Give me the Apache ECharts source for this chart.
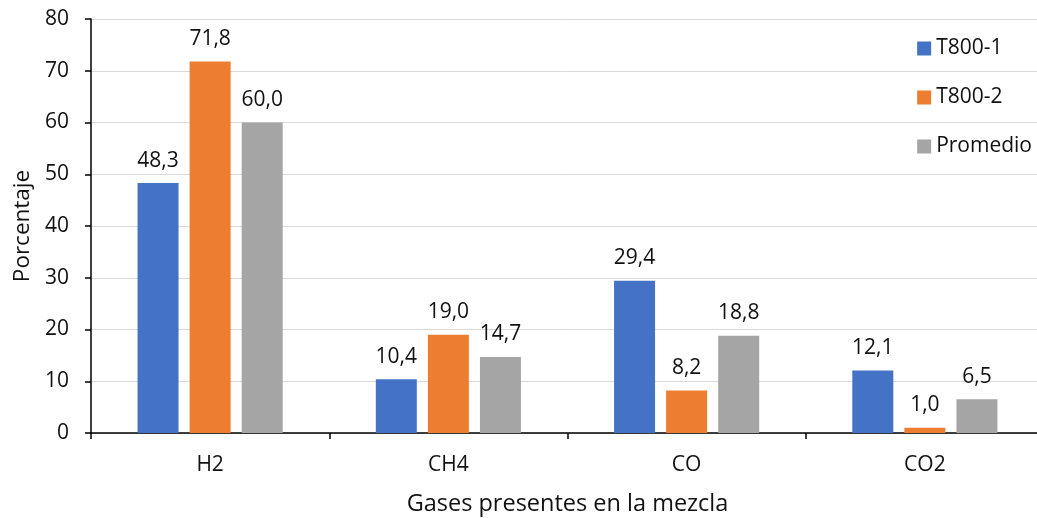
<!DOCTYPE html>
<html>
<head>
<meta charset="utf-8">
<script src="https://cdn.jsdelivr.net/npm/echarts@6/dist/echarts.min.js"></script>
<style>
  html, body { margin: 0; padding: 0; background: #fff; }
  #chart { width: 1037px; height: 518px; }
</style>
</head>
<body>
<div id="chart"></div>
<script>
// Gas composition per sample (percent)
const categories = ['H2', 'CH4', 'CO', 'CO2'];
const t800_1 = [48.3, 10.4, 29.4, 12.1];
const t800_2 = [71.8, 19.0, 8.2, 1.0];
const promedio = [60.0, 14.7, 18.8, 6.5];
const seriesNames = ['T800-1', 'T800-2', 'Promedio'];
const seriesColors = ['#4472C4', '#ED7D31', '#A5A5A5'];
const yTicks = { min: 0, max: 80, interval: 10 };

const FONT = '"Open Sans", "Noto Sans", sans-serif';
const TEXT = '#111111';

const chart = echarts.init(document.getElementById('chart'), null, { renderer: 'canvas' });

function barSeries(name, data, color) {
  return {
    name: name,
    type: 'bar',
    data: data,
    barWidth: 41,
    barGap: '27%',
    itemStyle: { color: color },
    label: {
      show: true,
      position: 'top',
      distance: 12,
      fontFamily: FONT,
      fontSize: 21,
      color: TEXT,
      formatter: p => p.value.toFixed(1).replace('.', ',')
    }
  };
}

chart.setOption({
  animation: false,
  backgroundColor: '#ffffff',
  textStyle: { fontFamily: FONT },
  grid: { left: 91, right: -7, top: 19, bottom: 85, containLabel: false, outerBoundsMode: 'none' },
  legend: {
    orient: 'vertical',
    right: 0,
    top: 33,
    itemWidth: 14,
    itemHeight: 14,
    itemGap: 28,
    icon: 'rect',
    textStyle: { fontFamily: FONT, fontSize: 21, color: TEXT },
    data: seriesNames
  },
  xAxis: {
    type: 'category',
    data: categories,
    name: 'Gases presentes en la mezcla',
    nameLocation: 'middle',
    nameGap: 59,
    nameTextStyle: { fontFamily: FONT, fontSize: 23.5, color: TEXT },
    axisLine: { show: true, lineStyle: { color: '#000', width: 1.5 } },
    axisTick: { show: true, length: 6, alignWithLabel: false, lineStyle: { color: '#000', width: 1.5 } },
    axisLabel: { fontFamily: FONT, fontSize: 21, color: TEXT, margin: 22 },
    splitLine: { show: false }
  },
  yAxis: {
    type: 'value',
    min: yTicks.min,
    max: yTicks.max,
    interval: yTicks.interval,
    name: 'Porcentaje',
    nameLocation: 'middle',
    nameGap: 57,
    nameRotate: 90,
    nameTextStyle: { fontFamily: FONT, fontSize: 22.5, color: TEXT },
    axisLine: { show: true, lineStyle: { color: '#000', width: 1.5 } },
    axisTick: { show: true, length: 6, lineStyle: { color: '#000', width: 1.5 } },
    axisLabel: { fontFamily: FONT, fontSize: 21, color: TEXT, margin: 22 },
    splitLine: { show: true, lineStyle: { color: '#D9D9D9', width: 1 } }
  },
  series: [
    barSeries(seriesNames[0], t800_1, seriesColors[0]),
    barSeries(seriesNames[1], t800_2, seriesColors[1]),
    barSeries(seriesNames[2], promedio, seriesColors[2])
  ]
});
</script>
</body>
</html>
